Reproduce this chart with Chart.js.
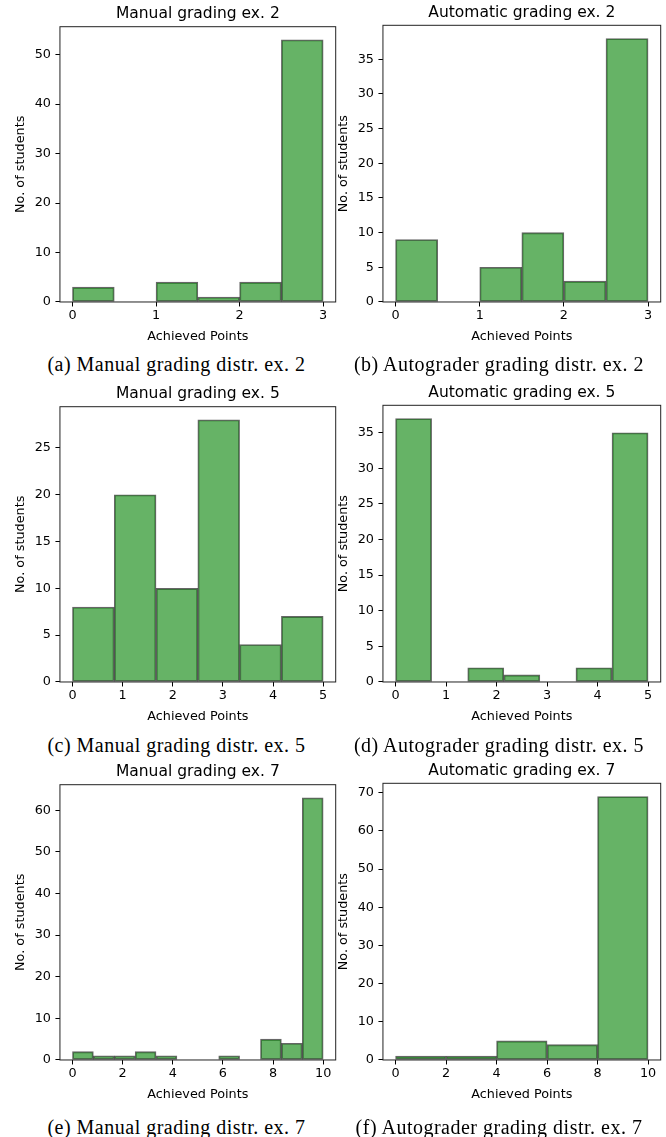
<!DOCTYPE html>
<html>
<head>
<meta charset="utf-8">
<script src="https://cdn.jsdelivr.net/npm/chart.js@4.4.0/dist/chart.umd.min.js"></script>
<style>
  body { margin: 0; background: #fff; width: 666px; height: 1137px; position: relative; overflow: hidden; }
  canvas { position: absolute; }
  .cap { position: absolute; font-family: 'Liberation Serif', serif; font-size: 20px; line-height: 20px;
         letter-spacing: 0.5px; text-align: center; color: #000; white-space: nowrap; }
</style>
</head>
<body>
<canvas id="h_a" width="345" height="350" style="left:0;top:0"></canvas>
<canvas id="h_b" width="343" height="350" style="left:323px;top:0"></canvas>
<canvas id="h_c" width="345" height="350" style="left:0;top:380px"></canvas>
<canvas id="h_d" width="343" height="350" style="left:323px;top:380px"></canvas>
<canvas id="h_e" width="345" height="350" style="left:0;top:758px"></canvas>
<canvas id="h_f" width="343" height="350" style="left:323px;top:758px"></canvas>

<div class="cap" style="left:0;width:353px;top:354px">(a) Manual grading distr. ex. 2</div>
<div class="cap" style="left:333px;width:332px;top:354px">(b) Autograder grading distr. ex. 2</div>
<div class="cap" style="left:0;width:353px;top:735px">(c) Manual grading distr. ex. 5</div>
<div class="cap" style="left:333px;width:332px;top:735px">(d) Autograder grading distr. ex. 5</div>
<div class="cap" style="left:0;width:353px;top:1117px">(e) Manual grading distr. ex. 7</div>
<div class="cap" style="left:333px;width:332px;top:1117px">(f) Autograder grading distr. ex. 7</div>

<script>
// bin edges and counts per histogram
const edgesEx2 = [0, 0.5, 1, 1.5, 2, 2.5, 3];
const manualEx2 = [3, 0, 4, 1, 4, 53];
const autoEx2 = [9, 0, 5, 10, 3, 38];

const edgesManualEx5 = [0, 0.833, 1.667, 2.5, 3.333, 4.167, 5];
const manualEx5 = [8, 20, 10, 28, 4, 7];
const edgesAutoEx5 = [0, 0.714, 1.429, 2.143, 2.857, 3.571, 4.286, 5];
const autoEx5 = [37, 0, 2, 1, 0, 2, 35];

const edgesManualEx7 = [0, 0.833, 1.667, 2.5, 3.333, 4.167, 5, 5.833, 6.667, 7.5, 8.333, 9.167, 10];
const manualEx7 = [2, 1, 1, 2, 1, 0, 0, 1, 0, 5, 4, 63];
const edgesAutoEx7 = [0, 2, 4, 6, 8, 10];
const autoEx7 = [1, 1, 5, 4, 69];

// tick labels
const xTicksEx2 = [0, 1, 2, 3];
const xTicksEx5 = [0, 1, 2, 3, 4, 5];
const xTicksEx7 = [0, 2, 4, 6, 8, 10];
const yTicksA = [0, 10, 20, 30, 40, 50];
const yTicksB = [0, 5, 10, 15, 20, 25, 30, 35];
const yTicksC = [0, 5, 10, 15, 20, 25];
const yTicksD = [0, 5, 10, 15, 20, 25, 30, 35];
const yTicksE = [0, 10, 20, 30, 40, 50, 60];
const yTicksF = [0, 10, 20, 30, 40, 50, 60, 70];

const xLabel = 'Achieved Points';
const yLabel = 'No. of students';

Chart.defaults.color = '#000';
Chart.defaults.font.family = "'DejaVu Sans', sans-serif";

const frame = {
  id: 'frame',
  afterDraw(chart) {
    const {ctx, chartArea: a} = chart;
    ctx.save();
    ctx.strokeStyle = '#222';
    ctx.lineWidth = 1;
    ctx.strokeRect(a.left, a.top, a.right - a.left, a.bottom - a.top);
    ctx.restore();
  }
};

function histogram(id, title, edges, counts, xTicks, xRange, yTicks, yMax, right) {
  const bars = counts.map((c, i) => ({x: (edges[i] + edges[i + 1]) / 2, y: c}));
  const fixTicks = vals => axis => { axis.ticks = vals.map(v => ({value: v})); };
  new Chart(document.getElementById(id), {
    type: 'bar',
    data: {
      datasets: [{
        data: bars,
        backgroundColor: 'rgba(0,128,0,0.6)',
        borderColor: 'rgba(0,0,0,0.6)',
        borderWidth: 1.2,
        borderSkipped: false,
        barPercentage: 1,
        categoryPercentage: 1
      }]
    },
    options: {
      responsive: false,
      animation: false,
      devicePixelRatio: 1,
      layout: {padding: {left: 0, top: 0, right: right ? 5.3 : 9.3, bottom: 5.3}},
      plugins: {
        legend: {display: false},
        tooltip: {enabled: false},
        title: {
          display: true,
          text: title,
          fullSize: false,
          font: {size: 15.5, weight: 'normal'},
          padding: right ? {top: 3.6, bottom: 3.1} : {top: 4.6, bottom: 3.5}
        }
      },
      scales: {
        x: {
          type: 'linear',
          offset: false,
          min: xRange[0],
          max: xRange[1],
          afterBuildTicks: fixTicks(xTicks),
          grid: {drawOnChartArea: false, drawTicks: true, tickLength: 4.5, color: '#000', offset: false},
          border: {display: false},
          ticks: {font: {size: 12.8}, padding: 1.6, autoSkip: false, maxRotation: 0},
          title: {display: true, text: xLabel, font: {size: 12.8}, padding: {top: 4.3, bottom: 0}}
        },
        y: {
          min: 0,
          max: yMax,
          afterBuildTicks: fixTicks(yTicks),
          grid: {drawOnChartArea: false, drawTicks: true, tickLength: 4.5, color: '#000'},
          border: {display: false},
          ticks: {font: {size: 12.8}, padding: 4.5, autoSkip: false},
          title: {display: true, text: yLabel, font: {size: 12.8}, padding: {top: 13.3, bottom: 1.5}}
        }
      }
    },
    plugins: [frame]
  });
}

histogram('h_a', 'Manual grading ex. 2', edgesEx2, manualEx2, xTicksEx2, [-0.15, 3.15], yTicksA, 55.65, false);
histogram('h_b', 'Automatic grading ex. 2', edgesEx2, autoEx2, xTicksEx2, [-0.15, 3.15], yTicksB, 39.9, true);
histogram('h_c', 'Manual grading ex. 5', edgesManualEx5, manualEx5, xTicksEx5, [-0.25, 5.25], yTicksC, 29.4, false);
histogram('h_d', 'Automatic grading ex. 5', edgesAutoEx5, autoEx5, xTicksEx5, [-0.25, 5.25], yTicksD, 38.85, true);
histogram('h_e', 'Manual grading ex. 7', edgesManualEx7, manualEx7, xTicksEx7, [-0.5, 10.5], yTicksE, 66.15, false);
histogram('h_f', 'Automatic grading ex. 7', edgesAutoEx7, autoEx7, xTicksEx7, [-0.5, 10.5], yTicksF, 72.45, true);
</script>
</body>
</html>
